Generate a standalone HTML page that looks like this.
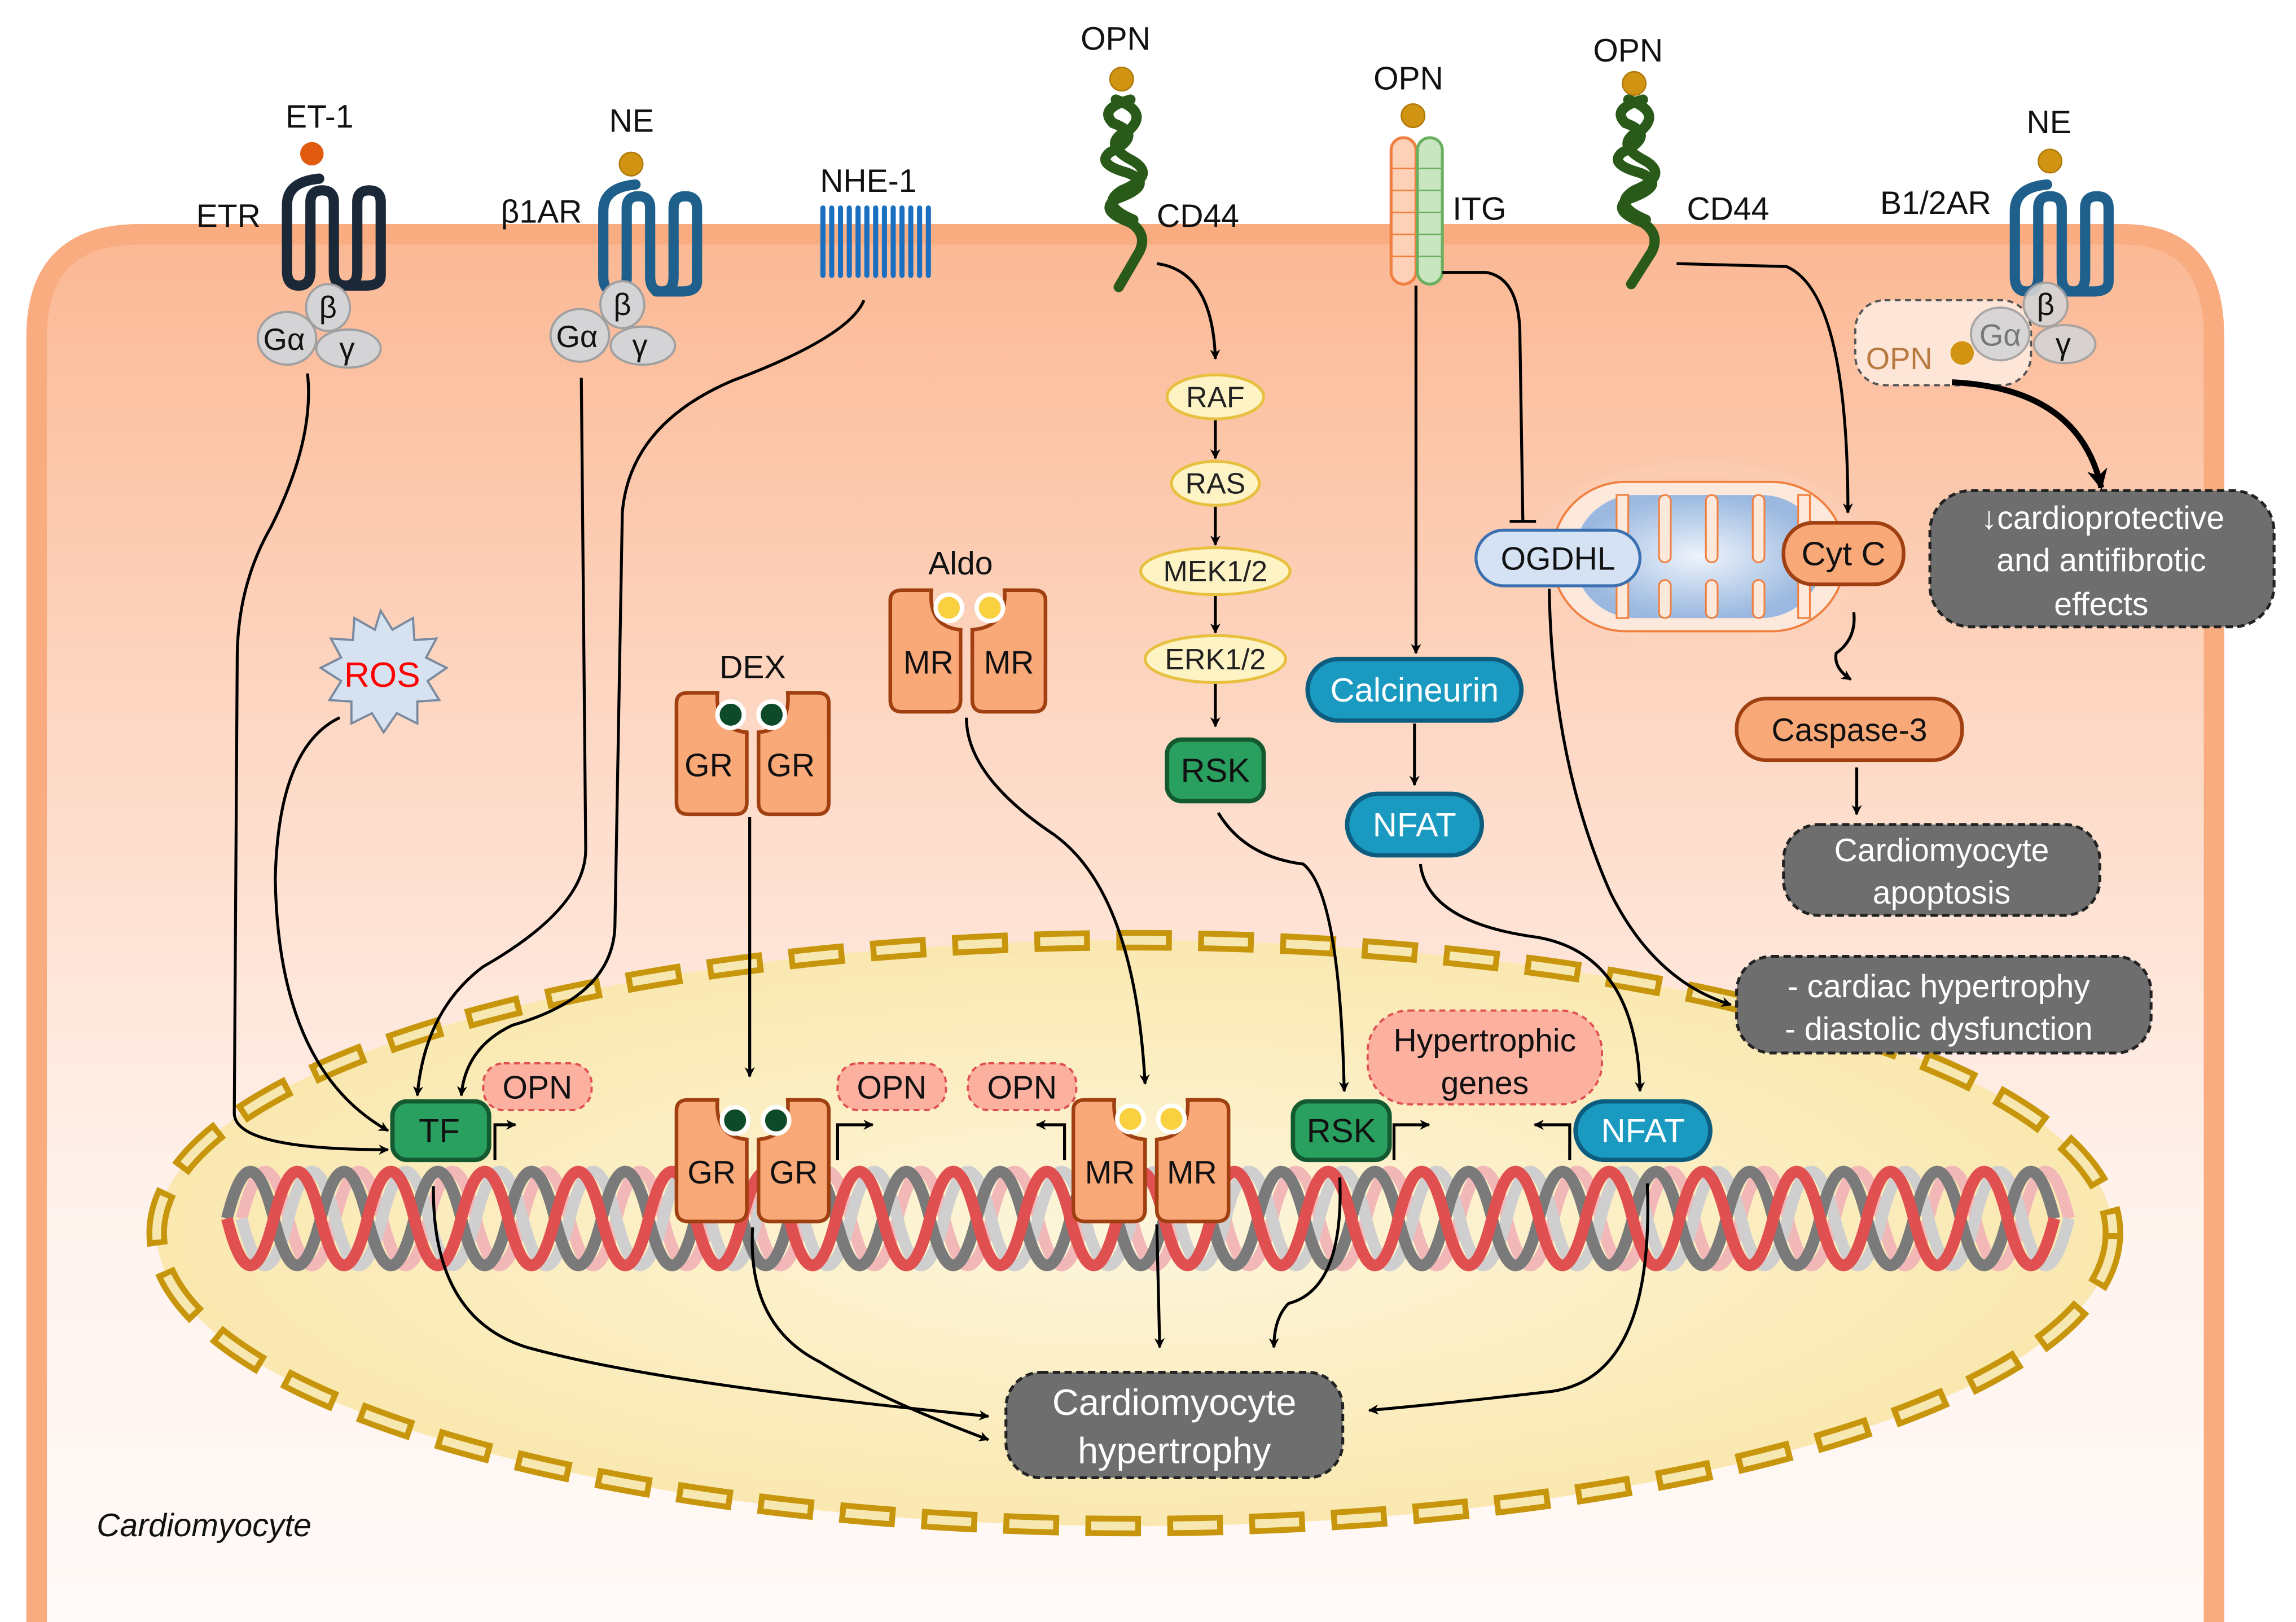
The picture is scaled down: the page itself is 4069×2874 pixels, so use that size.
<!DOCTYPE html>
<html><head><meta charset="utf-8"><style>
html,body{margin:0;padding:0;background:#fff}
svg{display:block}
text{font-family:"Liberation Sans",Arial,sans-serif}
</style></head><body>
<svg width="4069" height="2874" viewBox="0 0 1568 1107.5" preserveAspectRatio="none" xmlns="http://www.w3.org/2000/svg">
<defs>
<linearGradient id="cell" x1="0" y1="0" x2="0" y2="1">
<stop offset="0" stop-color="#fbb894"/><stop offset="0.35" stop-color="#fdd8c4"/><stop offset="0.7" stop-color="#fff3ee"/><stop offset="1" stop-color="#fffaf8"/></linearGradient>
<radialGradient id="nuc" cx="0.5" cy="0.5" r="0.5"><stop offset="0" stop-color="#fdf6dc"/><stop offset="1" stop-color="#fae8b0"/></radialGradient>
<radialGradient id="mito" cx="0.5" cy="0.5" r="0.5"><stop offset="0" stop-color="#eef3fb"/><stop offset="1" stop-color="#9ab8e0"/></radialGradient>
<radialGradient id="glow" cx="0.5" cy="0.5" r="0.5"><stop offset="0.6" stop-color="#f9b08a"/><stop offset="1" stop-color="#fde4d6" stop-opacity="0"/></radialGradient>
<marker id="a" viewBox="0 0 10 10" refX="9" refY="5" markerWidth="7" markerHeight="7" orient="auto" markerUnits="userSpaceOnUse"><path d="M0,0 L10,5 L0,10 L3,5 z" fill="#000"/></marker>
<marker id="ab" viewBox="0 0 10 10" refX="9" refY="5" markerWidth="14" markerHeight="14" orient="auto" markerUnits="userSpaceOnUse"><path d="M0,0 L10,5 L0,10 L3,5 z" fill="#000"/></marker>
</defs>

<!-- cell -->
<path d="M25,1120 L25,230 Q25,160 95,160 L1450,160 Q1512,160 1512,230 L1512,1120 Z" fill="url(#cell)"/>
<path d="M25,1120 L25,230 Q25,160 95,160 L1450,160 Q1512,160 1512,230 L1512,1120" fill="none" stroke="#f9ac80" stroke-width="14"/>

<!-- nucleus -->
<ellipse cx="775" cy="842" rx="668" ry="200" fill="url(#nuc)"/>
<ellipse cx="775" cy="842" rx="668" ry="200" fill="none" stroke="#c8960c" stroke-width="14" stroke-dasharray="38 18"/>
<ellipse cx="775" cy="842" rx="668" ry="200" fill="none" stroke="#f7e7b0" stroke-width="6" stroke-dasharray="30 26" stroke-dashoffset="-4"/>

<!-- DNA -->
<g fill="none" stroke-width="8">
<path d="M155,832 q16,-64 32,0 t32,0 t32,0 t32,0 t32,0 t32,0 t32,0 t32,0 t32,0 t32,0 t32,0 t32,0 t32,0 t32,0 t32,0 t32,0 t32,0 t32,0 t32,0 t32,0 t32,0 t32,0 t32,0 t32,0 t32,0 t32,0 t32,0 t32,0 t32,0 t32,0 t32,0 t32,0 t32,0 t32,0 t32,0 t32,0 t32,0 t32,0 t32,0" stroke="#f2b8b8" transform="translate(10,0)"/>
<path d="M155,832 q16,64 32,0 t32,0 t32,0 t32,0 t32,0 t32,0 t32,0 t32,0 t32,0 t32,0 t32,0 t32,0 t32,0 t32,0 t32,0 t32,0 t32,0 t32,0 t32,0 t32,0 t32,0 t32,0 t32,0 t32,0 t32,0 t32,0 t32,0 t32,0 t32,0 t32,0 t32,0 t32,0 t32,0 t32,0 t32,0 t32,0 t32,0 t32,0 t32,0" stroke="#cfcfcf" transform="translate(10,0)"/>
<path d="M155,832 q16,-64 32,0 t32,0 t32,0 t32,0 t32,0 t32,0 t32,0 t32,0 t32,0 t32,0 t32,0 t32,0 t32,0 t32,0 t32,0 t32,0 t32,0 t32,0 t32,0 t32,0 t32,0 t32,0 t32,0 t32,0 t32,0 t32,0 t32,0 t32,0 t32,0 t32,0 t32,0 t32,0 t32,0 t32,0 t32,0 t32,0 t32,0 t32,0 t32,0" stroke="#7a7a7a"/>
<path d="M155,832 q16,64 32,0 t32,0 t32,0 t32,0 t32,0 t32,0 t32,0 t32,0 t32,0 t32,0 t32,0 t32,0 t32,0 t32,0 t32,0 t32,0 t32,0 t32,0 t32,0 t32,0 t32,0 t32,0 t32,0 t32,0 t32,0 t32,0 t32,0 t32,0 t32,0 t32,0 t32,0 t32,0 t32,0 t32,0 t32,0 t32,0 t32,0 t32,0 t32,0" stroke="#e05050"/>
</g>

<!-- GPCRs -->
<g fill="none" stroke-width="7" stroke-linecap="round">
<path d="M218,122 Q196,124 196,140 L196,185 Q196,195 204,195 Q212,195 212,185 L212,138 Q212,130 220,130 Q228,130 228,138 L228,185 Q228,195 236,195 Q244,195 244,185 L244,138 Q244,130 252,130 Q260,130 260,138 L260,188 Q260,195 250,195 L232,195" stroke="#1a2838"/>
<path d="M434,126 Q412,128 412,144 L412,189 Q412,199 420,199 Q428,199 428,189 L428,142 Q428,134 436,134 Q444,134 444,142 L444,189 Q444,199 452,199 Q460,199 460,189 L460,142 Q460,134 468,134 Q476,134 476,142 L476,192 Q476,199 466,199 L448,199" stroke="#1f5f8c"/>
<path d="M1398,126 Q1376,128 1376,144 L1376,189 Q1376,199 1384,199 Q1392,199 1392,189 L1392,142 Q1392,134 1400,134 Q1408,134 1408,142 L1408,189 Q1408,199 1416,199 Q1424,199 1424,189 L1424,142 Q1424,134 1432,134 Q1440,134 1440,142 L1440,192 Q1440,199 1430,199 L1412,199" stroke="#1f5f8c"/>
</g>
<!-- ligands -->
<circle cx="213" cy="105" r="8" fill="#e05a10"/>
<circle cx="431" cy="112" r="8" fill="#d09412" stroke="#b07a0a"/>
<circle cx="766" cy="54" r="8" fill="#d09412" stroke="#b07a0a"/>
<circle cx="965" cy="79" r="8" fill="#d09412" stroke="#b07a0a"/>
<circle cx="1116" cy="57" r="8" fill="#d09412" stroke="#b07a0a"/>
<circle cx="1400" cy="110" r="8" fill="#d09412" stroke="#b07a0a"/>

<!-- G proteins -->
<g fill="#d4d4d6" stroke="#a0a0a0" stroke-width="1.5">
<ellipse cx="224" cy="210" rx="15" ry="16"/><ellipse cx="196" cy="231" rx="20" ry="18"/><ellipse cx="238" cy="238" rx="22" ry="13"/>
<ellipse cx="425" cy="208" rx="15" ry="16"/><ellipse cx="396" cy="229" rx="20" ry="18"/><ellipse cx="439" cy="236" rx="22" ry="13"/>
</g>
<g font-size="21" text-anchor="middle" fill="#111">
<text x="224" y="217">β</text><text x="194" y="239">Gα</text><text x="237" y="245">γ</text>
<text x="425" y="215">β</text><text x="394" y="237">Gα</text><text x="437" y="243">γ</text>
</g>
<!-- B1/2AR complex with OPN -->
<rect x="1267" y="205" width="120" height="58" rx="20" fill="#fde6d8" stroke="#555" stroke-width="1.5" stroke-dasharray="4 3"/>
<g fill="#d4d4d6" stroke="#a0a0a0" stroke-width="1.5" opacity="0.9">
<ellipse cx="1397" cy="208" rx="15" ry="15"/><ellipse cx="1366" cy="228" rx="20" ry="18"/><ellipse cx="1410" cy="235" rx="21" ry="13"/></g>
<g font-size="21" text-anchor="middle" fill="#111"><text x="1397" y="215">β</text><text x="1366" y="236" fill="#777">Gα</text><text x="1409" y="242">γ</text></g>
<text x="1297" y="252" font-size="21" text-anchor="middle" fill="#b87a40">OPN</text>
<circle cx="1340" cy="241" r="8" fill="#d09412"/>

<!-- NHE-1 -->
<g stroke="#1a6fc0" stroke-width="3.5" stroke-linecap="round">
<path d="M562,142V188M568,142V188M574,142V188M580,142V188M586,142V188M592,142V188M598,142V188M604,142V188M610,142V188M616,142V188M622,142V188M628,142V188M634,142V188"/></g>

<!-- CD44 -->
<g fill="none" stroke="#2a5a1a" stroke-width="7" stroke-linecap="round">
<path d="M772,68 Q750,74 760,84 Q782,92 758,104 Q748,112 770,118 Q790,126 762,136 Q750,144 772,152 Q784,160 778,172 L764,196"/>
<path d="M762,68 Q784,76 772,88 Q750,98 774,110 Q790,120 766,130 Q750,140 774,150"/>
<path d="M1122,68 Q1100,74 1110,84 Q1132,92 1108,104 Q1098,112 1120,118 Q1140,126 1112,136 Q1100,144 1122,152 Q1134,160 1128,172 L1114,194"/>
<path d="M1112,68 Q1134,76 1122,88 Q1100,98 1124,110 Q1140,120 1116,130 Q1100,140 1124,150"/>
</g>
<!-- ITG -->
<rect x="950" y="94" width="17" height="100" rx="8.5" fill="#fdd0b8" stroke="#f08040" stroke-width="2"/>
<rect x="968" y="94" width="17" height="100" rx="8.5" fill="#c8e6c0" stroke="#6ab060" stroke-width="2"/>
<g stroke="#f08040" stroke-width="1" fill="none"><path d="M950,115h17M950,130h17M950,145h17M950,160h17M950,175h17"/></g>
<g stroke="#6ab060" stroke-width="1" fill="none"><path d="M968,115h17M968,130h17M968,145h17M968,160h17M968,175h17"/></g>

<!-- membrane labels -->
<g font-size="22" fill="#111">
<text x="195" y="87">ET-1</text><text x="134" y="155">ETR</text>
<text x="416" y="90">NE</text><text x="342" y="152">β1AR</text>
<text x="560" y="131">NHE-1</text>
<text x="738" y="34">OPN</text><text x="790" y="155">CD44</text>
<text x="938" y="61">OPN</text><text x="992" y="150">ITG</text>
<text x="1088" y="42">OPN</text><text x="1152" y="150">CD44</text>
<text x="1384" y="91">NE</text><text x="1284" y="146">B1/2AR</text>
</g>

<!-- ERK cascade -->
<g fill="#fdf3c4" stroke="#e8c040" stroke-width="2">
<ellipse cx="830" cy="271" rx="33" ry="15"/><ellipse cx="830" cy="330" rx="30" ry="15"/>
<ellipse cx="830" cy="390" rx="51" ry="16"/><ellipse cx="830" cy="450" rx="48" ry="16"/></g>
<g font-size="20" text-anchor="middle" fill="#222">
<text x="830" y="278">RAF</text><text x="830" y="337">RAS</text><text x="830" y="397">MEK1/2</text><text x="830" y="457">ERK1/2</text></g>

<!-- green/blue nodes -->
<g stroke-width="3">
<rect x="797" y="505" width="66" height="42" rx="10" fill="#2aa060" stroke="#145a30"/>
<rect x="893" y="450" width="146" height="42" rx="21" fill="#1a9ac0" stroke="#0d5d80"/>
<rect x="920" y="542" width="92" height="42" rx="21" fill="#1a9ac0" stroke="#0d5d80"/>
<rect x="268" y="752" width="66" height="40" rx="10" fill="#2aa060" stroke="#145a30"/>
<rect x="883" y="752" width="66" height="40" rx="10" fill="#2aa060" stroke="#145a30"/>
<rect x="1076" y="752" width="92" height="40" rx="20" fill="#1a9ac0" stroke="#0d5d80"/>
</g>
<g font-size="23" text-anchor="middle" fill="#111">
<text x="830" y="534">RSK</text><text x="300" y="780">TF</text><text x="916" y="780">RSK</text></g>
<g font-size="23" text-anchor="middle" fill="#fff">
<text x="966" y="479">Calcineurin</text><text x="966" y="571">NFAT</text><text x="1122" y="780">NFAT</text></g>

<!-- mitochondrion -->
<ellipse cx="1160" cy="378" rx="120" ry="65" fill="url(#glow)"/>
<rect x="1060" y="329" width="200" height="102" rx="50" fill="#fde8dc" stroke="#f08040" stroke-width="1.5"/>
<rect x="1075" y="338" width="170" height="84" rx="42" fill="url(#mito)"/>
<g fill="#fde8dc" stroke="#f08040" stroke-width="1.2">
<rect x="1104" y="338" width="8" height="84"/><rect x="1133" y="338" width="8" height="46" rx="4"/><rect x="1133" y="396" width="8" height="26" rx="4"/>
<rect x="1165" y="338" width="8" height="46" rx="4"/><rect x="1165" y="396" width="8" height="26" rx="4"/>
<rect x="1197" y="338" width="8" height="46" rx="4"/><rect x="1197" y="396" width="8" height="26" rx="4"/><rect x="1228" y="338" width="8" height="84"/></g>
<rect x="1008" y="362" width="112" height="38" rx="19" fill="#d4e2f4" stroke="#3a6fb0" stroke-width="2"/>
<text x="1064" y="389" font-size="22" text-anchor="middle" fill="#111">OGDHL</text>
<rect x="1218" y="357" width="82" height="42" rx="20" fill="#f9a878" stroke="#a04010" stroke-width="2.5"/>
<text x="1259" y="386" font-size="23" text-anchor="middle" fill="#111">Cyt C</text>
<rect x="1186" y="477" width="154" height="42" rx="20" fill="#f9a878" stroke="#a04010" stroke-width="2.5"/>
<text x="1263" y="506" font-size="22" text-anchor="middle" fill="#111">Caspase-3</text>

<!-- gray outcome boxes -->
<g fill="#6e6e6e" stroke="#222" stroke-width="2" stroke-dasharray="5 3">
<rect x="1318" y="335" width="235" height="93" rx="28"/>
<rect x="1218" y="563" width="216" height="62" rx="24"/>
<rect x="1186" y="653" width="283" height="66" rx="24"/>
<rect x="687" y="937" width="230" height="72" rx="24"/>
</g>
<g font-size="22" text-anchor="middle" fill="#fff">
<text x="1436" y="361">↓cardioprotective</text><text x="1435" y="390">and antifibrotic</text><text x="1435" y="420">effects</text>
<text x="1326" y="588">Cardiomyocyte</text><text x="1326" y="617">apoptosis</text>
<text x="1324" y="681">- cardiac hypertrophy</text><text x="1324" y="710">- diastolic dysfunction</text>
<text x="802" y="966" font-size="25">Cardiomyocyte</text><text x="802" y="999" font-size="25">hypertrophy</text>
</g>

<!-- ROS -->
<polygon points="260,417 268,430 282,422 283,437 298,436 291,449 305,456 292,465 300,478 285,479 285,494 271,487 262,500 254,487 240,494 240,479 225,478 233,465 219,456 233,449 226,436 241,437 242,422 256,430" fill="#d6e2f0" stroke="#7a8aa0" stroke-width="1.5"/>
<text x="261" y="469" font-size="24" text-anchor="middle" fill="#ff0000">ROS</text>

<!-- GR / MR receptors -->
<g fill="#f9a878" stroke="#a04010" stroke-width="2.5">
<path d="M462,480 Q462,473 470,473 L490,473 Q488,498 510,500 L510,548 Q510,556 502,556 L470,556 Q462,556 462,548 Z"/>
<path d="M566,480 Q566,473 558,473 L538,473 Q540,498 518,500 L518,548 Q518,556 526,556 L558,556 Q566,556 566,548 Z"/>
<path d="M608,410 Q608,403 616,403 L636,403 Q634,428 656,430 L656,478 Q656,486 648,486 L616,486 Q608,486 608,478 Z"/>
<path d="M714,410 Q714,403 706,403 L686,403 Q688,428 664,430 L664,478 Q664,486 672,486 L706,486 Q714,486 714,478 Z"/>
<path d="M462,758 Q462,751 470,751 L490,751 Q488,776 510,778 L510,826 Q510,834 502,834 L470,834 Q462,834 462,826 Z"/>
<path d="M566,758 Q566,751 558,751 L538,751 Q540,776 518,778 L518,826 Q518,834 526,834 L558,834 Q566,834 566,826 Z"/>
<path d="M733,758 Q733,751 741,751 L761,751 Q759,776 782,778 L782,826 Q782,834 774,834 L741,834 Q733,834 733,826 Z"/>
<path d="M839,758 Q839,751 831,751 L811,751 Q813,776 790,778 L790,826 Q790,834 798,834 L831,834 Q839,834 839,826 Z"/>
</g>
<g fill="#0d4a2a" stroke="#fff" stroke-width="3">
<circle cx="499" cy="488" r="9"/><circle cx="527" cy="488" r="9"/><circle cx="502" cy="765" r="9"/><circle cx="530" cy="765" r="9"/></g>
<g fill="#f8d040" stroke="#fff" stroke-width="3">
<circle cx="648" cy="415" r="9"/><circle cx="676" cy="415" r="9"/><circle cx="772" cy="764" r="9"/><circle cx="800" cy="764" r="9"/></g>
<g font-size="22" text-anchor="middle" fill="#111">
<text x="484" y="530">GR</text><text x="540" y="530">GR</text>
<text x="634" y="460">MR</text><text x="689" y="460">MR</text>
<text x="486" y="808">GR</text><text x="542" y="808">GR</text>
<text x="758" y="808">MR</text><text x="814" y="808">MR</text>
<text x="514" y="463">DEX</text><text x="656" y="392">Aldo</text>
</g>

<!-- OPN genes -->
<g fill="#fbb0a0" stroke="#e05050" stroke-width="1.5" stroke-dasharray="4 3">
<rect x="330" y="726" width="74" height="32" rx="14"/><rect x="572" y="726" width="74" height="32" rx="14"/>
<rect x="661" y="726" width="74" height="32" rx="14"/><rect x="934" y="690" width="160" height="64" rx="28"/></g>
<g font-size="22" text-anchor="middle" fill="#111">
<text x="367" y="750">OPN</text><text x="609" y="750">OPN</text><text x="698" y="750">OPN</text>
<text x="1014" y="718">Hypertrophic</text><text x="1014" y="747">genes</text></g>

<!-- promoter arrows -->
<g fill="none" stroke="#000" stroke-width="2">
<path d="M338,792 V768 H352" marker-end="url(#a)"/>
<path d="M572,792 V768 H596" marker-end="url(#a)"/>
<path d="M727,792 V768 H708" marker-end="url(#a)"/>
<path d="M952,792 V768 H976" marker-end="url(#a)"/>
<path d="M1072,792 V768 H1048" marker-end="url(#a)"/>
</g>

<!-- connectors -->
<g fill="none" stroke="#000" stroke-width="2">
<path d="M210,255 Q215,300 185,360 Q162,400 162,450 L160,760 Q160,785 265,785" marker-end="url(#a)"/>
<path d="M397,258 L400,580 Q400,620 330,660 Q290,690 285,748" marker-end="url(#a)"/>
<path d="M590,205 Q580,230 500,260 Q430,290 425,350 L420,630 Q420,680 350,700 Q318,715 315,748" marker-end="url(#a)"/>
<path d="M232,490 Q190,510 188,600 Q190,730 265,772" marker-end="url(#a)"/>
<path d="M790,180 Q828,185 830,245" marker-end="url(#a)"/>
<path d="M830,287 V313" marker-end="url(#a)"/><path d="M830,346 V372" marker-end="url(#a)"/>
<path d="M830,407 V432" marker-end="url(#a)"/><path d="M830,467 V496" marker-end="url(#a)"/>
<path d="M832,555 Q850,585 890,590 Q915,610 918,745" marker-end="url(#a)"/>
<path d="M967,195 V446" marker-end="url(#a)"/>
<path d="M985,186 H1015 Q1038,190 1038,230 L1040,356"/><path d="M1031,356 H1049"/>
<path d="M966,494 V536" marker-end="url(#a)"/>
<path d="M970,590 Q975,630 1050,640 Q1118,652 1120,745" marker-end="url(#a)"/>
<path d="M1058,402 Q1060,520 1100,610 Q1130,670 1182,686" marker-end="url(#a)"/>
<path d="M1145,180 L1220,182 Q1262,200 1262,350" marker-end="url(#a)"/>
<path d="M1266,418 Q1268,436 1254,446 Q1252,456 1264,464" marker-end="url(#a)"/>
<path d="M1268,524 V556" marker-end="url(#a)"/>
<path d="M512,558 V735" marker-end="url(#a)"/>
<path d="M660,490 Q660,530 720,570 Q775,610 782,740" marker-end="url(#a)"/>
<path d="M296,810 Q295,900 360,920 Q450,945 675,967" marker-end="url(#a)"/>
<path d="M514,838 Q510,905 560,930 Q600,955 675,983" marker-end="url(#a)"/>
<path d="M790,836 L792,920" marker-end="url(#a)"/>
<path d="M915,804 Q918,880 880,890 Q870,900 870,920" marker-end="url(#a)"/>
<path d="M1125,808 Q1130,940 1060,950 Q990,958 935,963" marker-end="url(#a)"/>
</g>
<path d="M1333,261 Q1420,265 1435,333" fill="none" stroke="#000" stroke-width="4" marker-end="url(#ab)"/>

<text x="66" y="1049" font-size="22" font-style="italic" fill="#111">Cardiomyocyte</text>
</svg>
</body></html>
